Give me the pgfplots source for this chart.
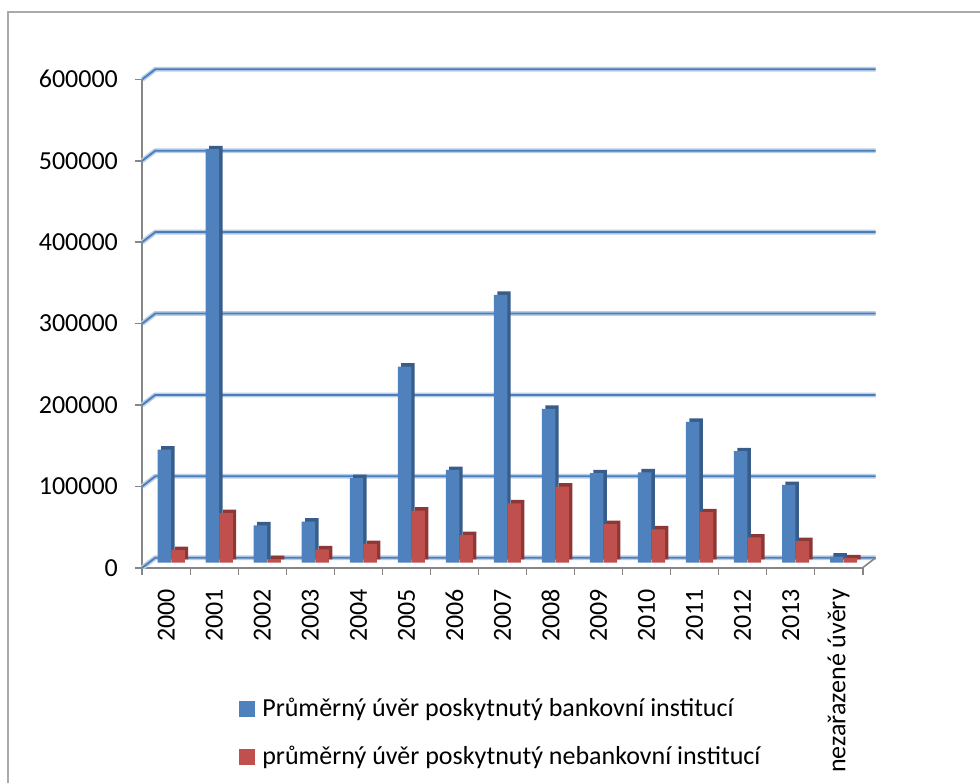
\documentclass[border=0pt]{standalone}
\usepackage{fontspec}
\setmainfont{Carlito}
\usepackage{pgfplots}
\pgfplotsset{compat=1.18}
\definecolor{barblue}{RGB}{79,129,189}
\definecolor{barblueside}{RGB}{56,93,138}
\definecolor{barred}{RGB}{192,80,77}
\definecolor{barredside}{RGB}{140,56,54}
\definecolor{gridblue}{RGB}{74,126,187}
\definecolor{gridhalo}{RGB}{185,205,230}
\definecolor{axgray}{RGB}{134,134,134}
\definecolor{framegray}{RGB}{170,170,170}
\begin{document}
\begin{tikzpicture}[font=\fontsize{13}{15.6}\selectfont]
\useasboundingbox (0,0) rectangle (490pt,391.5pt);
\draw[framegray, line width=0.9pt] (4pt,0) -- (4pt,385.5pt) -- (490pt,385.5pt);
\begin{axis}[
  at={(71.15pt,107.65pt)}, anchor=south west,
  width=360.2pt, height=244.2pt, scale only axis,
  xmin=-0.5, xmax=14.5, ymin=0, ymax=600000,
  clip=false,
  scaled y ticks=false,
  axis x line*=bottom, axis y line*=left,
  axis line style={axgray, line width=0.8pt, -},
  ytick={0,100000,200000,300000,400000,500000,600000},
  yticklabels={0,100000,200000,300000,400000,500000,600000},
  xtick={0,...,14},
  xticklabels={2000,2001,2002,2003,2004,2005,2006,2007,2008,2009,2010,2011,2012,2013,nezařazené úvěry},
  minor xtick={-0.5,0.5,...,14.5},
  tick align=outside,
  major tick length=3.5pt,
  minor tick length=3.5pt,
  every major x tick/.style={draw=none},
  tick style={axgray, line width=0.8pt},
  yticklabel style={inner sep=0pt, anchor=east},
  yticklabel shift=8.5pt,
  xticklabel style={rotate=90, anchor=east, inner sep=0pt},
  xticklabel shift=7pt,
  bar width=0.28,
  legend style={at={(0.133,-0.258)}, anchor=north west, draw=none, fill=none,
    inner sep=0pt, row sep=9.5pt, font=\fontsize{13}{15.6}\selectfont},
  legend cell align=left,
]
\pgfplotsinvokeforeach{0,100000,200000,300000,400000,500000,600000}{
  \draw[gridhalo, line width=2.4pt] (axis cs:-0.5,#1) -- ++(6.5pt,5pt) -- ([xshift=6.5pt,yshift=5pt]axis cs:14.5,#1);
  \draw[gridblue, line width=0.9pt] (axis cs:-0.5,#1) -- ++(6.5pt,5pt) -- ([xshift=6.5pt,yshift=5pt]axis cs:14.5,#1);
}
\draw[axgray, line width=0.8pt] (axis cs:14.5,0) -- ++(6.5pt,5pt);
% blue series
\addplot[ybar, bar shift=-0.04, fill=barblueside, draw=none, xshift=1.7pt, yshift=4.2pt, forget plot]
 coordinates {(0,139000) (1,508000) (2,46000) (3,50500) (4,104000) (5,241000) (6,114000) (7,329000) (8,189000) (9,110000) (10,111000) (11,173000) (12,137000) (13,95500) (14,7500)};
\addplot[ybar, bar shift=-0.04, fill=barblue, draw=none, yshift=2.5pt, forget plot]
 coordinates {(0,139000) (1,508000) (2,46000) (3,50500) (4,104000) (5,241000) (6,114000) (7,329000) (8,189000) (9,110000) (10,111000) (11,173000) (12,137000) (13,95500) (14,7500)};
% red series
\addplot[ybar, bar shift=0.245, fill=barredside, draw=none, xshift=1.7pt, yshift=4.2pt, forget plot]
 coordinates {(0,15500) (1,61000) (2,4500) (3,16500) (4,23000) (5,64000) (6,34000) (7,73000) (8,93500) (9,47500) (10,41000) (11,62000) (12,31000) (13,26500) (14,5500)};
\addplot[ybar, bar shift=0.245, fill=barred, draw=none, yshift=2.5pt, forget plot]
 coordinates {(0,15500) (1,61000) (2,4500) (3,16500) (4,23000) (5,64000) (6,34000) (7,73000) (8,93500) (9,47500) (10,41000) (11,62000) (12,31000) (13,26500) (14,5500)};
\addlegendimage{legend image code/.code={\fill[barblue] (0pt,-3.75pt) rectangle (7.5pt,3.75pt); \path (9.5pt,0pt);}}
\addlegendentry{Průměrný úvěr poskytnutý bankovní institucí}
\addlegendimage{legend image code/.code={\fill[barred] (0pt,-3.75pt) rectangle (7.5pt,3.75pt); \path (9.5pt,0pt);}}
\addlegendentry{průměrný úvěr poskytnutý nebankovní institucí}
\end{axis}
\end{tikzpicture}
\end{document}
